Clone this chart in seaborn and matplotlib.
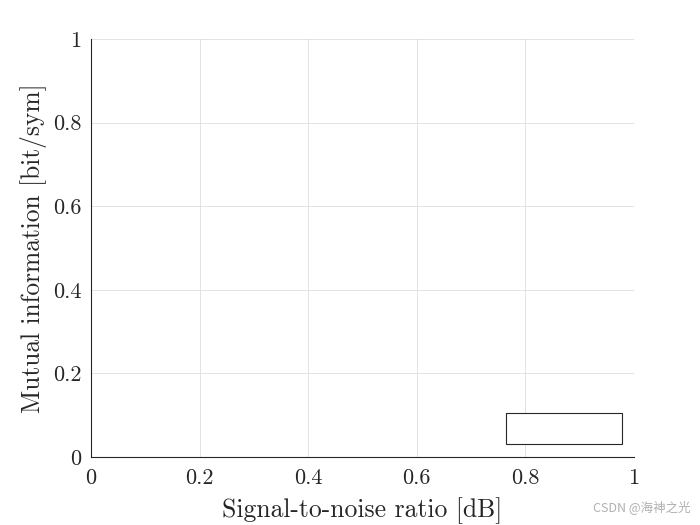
import matplotlib
matplotlib.use("Agg")
import matplotlib.pyplot as plt
import seaborn as sns
from matplotlib.patches import Rectangle

# Data (the reference chart is an empty axes with an empty legend box)
snr_db = []
mutual_info = []
x_ticks = [0, 0.2, 0.4, 0.6, 0.8, 1]
y_ticks = [0, 0.2, 0.4, 0.6, 0.8, 1]
x_tick_labels = ["0", "0.2", "0.4", "0.6", "0.8", "1"]
y_tick_labels = ["0", "0.2", "0.4", "0.6", "0.8", "1"]
x_label = "Signal-to-noise ratio [dB]"
y_label = "Mutual information [bit/sym]"
watermark = "CSDN @海神之光"

sns.set_style("white")
plt.rcParams["font.family"] = ["cmr10", "DejaVu Sans"]
plt.rcParams["axes.formatter.use_mathtext"] = True
plt.rcParams["mathtext.fontset"] = "cm"

txt = "#262626"
fig = plt.figure(figsize=(7, 5.25), dpi=100)
ax = fig.add_axes([91/700, 1-457/525, (634-91)/700, (457-39)/525])

sns.lineplot(x=snr_db, y=mutual_info, ax=ax)

ax.set_xlim(0, 1)
ax.set_ylim(0, 1)
ax.set_xticks(x_ticks)
ax.set_yticks(y_ticks)
ax.set_xticklabels(x_tick_labels)
ax.set_yticklabels(y_tick_labels)
ax.tick_params(direction="in", length=5, width=0.8, colors=txt, labelsize=16,
               labelcolor=txt)
ax.tick_params(axis="x", pad=8)
ax.tick_params(axis="y", pad=7)
ax.grid(True, color="#dedede", linewidth=0.6)
for s in ["top", "right"]:
    ax.spines[s].set_visible(False)
for s in ["left", "bottom"]:
    ax.spines[s].set_color(txt)
    ax.spines[s].set_linewidth(0.8)

ax.set_xlabel(x_label, fontsize=18.5, color=txt, labelpad=7)
ax.set_ylabel(y_label, fontsize=18.3, color=txt, labelpad=4)

# empty legend box
ax.add_patch(Rectangle(((506-91)/543, (457-444)/418), 116/543, 31/418,
                       transform=ax.transAxes, fill=True, facecolor="white",
                       edgecolor="#262626", linewidth=0.8, zorder=5,
                       clip_on=False))

fig.text(0.987, 0.02, watermark, ha="right", va="bottom", fontsize=9,
         color="#b0b0b0", family=["Noto Sans CJK SC", "DejaVu Sans"])

fig.savefig("out.png", dpi=100, facecolor="white")
